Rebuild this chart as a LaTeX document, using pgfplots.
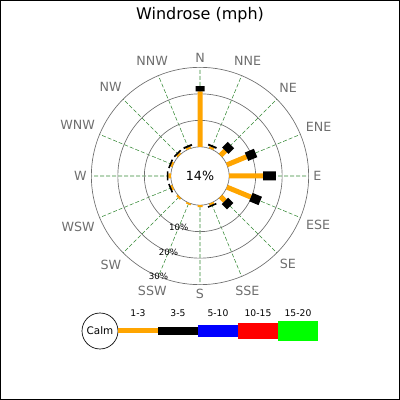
\documentclass[border=0pt]{standalone}
\usepackage{fontspec}
\setmainfont{DejaVu Sans}
\usepackage{pgfplots}
\pgfplotsset{compat=1.18}
\usepgfplotslibrary{polar}

\definecolor{speedA}{RGB}{255,165,0}
\definecolor{labelgray}{RGB}{110,110,110}
\definecolor{ringgray}{RGB}{110,110,110}
\definecolor{spokegreen}{RGB}{50,135,50}

\begin{document}
\begin{tikzpicture}
\useasboundingbox (0,0) rectangle (300pt,300pt);
\draw[line width=0.75pt] (0.375pt,0.375pt) rectangle (299.625pt,299.625pt);
\node[font=\fontsize{12}{14}\selectfont] at (150pt,288.75pt) {Windrose (mph)};

\begin{polaraxis}[
    at={(150pt,168pt)}, anchor=center,
    scale only axis, width=163pt, height=163pt,
    xmin=0, xmax=360, ymin=0, ymax=41,
    xtick={0,22.5,...,337.5},
    xticklabels={E,ENE,NE,NNE,N,NNW,NW,WNW,W,WSW,SW,SSW,S,SSE,SE,ESE},
    xticklabel style={font=\fontsize{9.5}{11}\selectfont, text=labelgray},
    ytick={21,31}, yticklabels={},
    xmajorgrids, ymajorgrids,
    major x grid style={spokegreen, dash pattern=on 3pt off 1.5pt, line width=0.4pt},
    major y grid style={ringgray, line width=0.5pt},
    separate axis lines,
    x axis line style={ringgray, line width=0.5pt},
    y axis line style={draw=none},
    major tick length=0pt,
    tick style={draw=none},
    clip=false,
    y filter/.expression={y+11},
    unbounded coords=jump,
]
% calm circle (0 %)
\filldraw[fill=white, draw=ringgray, line width=0.5pt] (axis cs:0,0) circle[radius=21.87pt];
\node[font=\fontsize{9.5}{11}\selectfont] at (axis cs:0,0) {14\%};

% 1-3 mph, cumulative percent
\addplot[no markers, speedA, line width=3.75pt] coordinates {
    (90,0) (90,20.9) (90,nan)
    (67.5,0) (67.5,0.8) (67.5,nan)
    (45,0) (45,2.5) (45,nan)
    (22.5,0) (22.5,8.0) (22.5,nan)
    (0,0) (0,12.8) (0,nan)
    (337.5,0) (337.5,9.8) (337.5,nan)
    (315,0) (315,2.3) (315,nan)
    (292.5,0) (292.5,0.7) (292.5,nan)
    (270,0) (270,0.7) (270,nan)
    (247.5,0) (247.5,0.6) (247.5,nan)
    (225,0) (225,0.7) (225,nan)
    (202.5,0) (202.5,0.7) (202.5,nan)
    (180,0) (180,0.9) (180,nan)
    (157.5,0) (157.5,0.7) (157.5,nan)
    (135,0) (135,0.7) (135,nan)
    (112.5,0) (112.5,0.7)
};
% 3-5 mph, cumulative percent
\addplot[no markers, black, line width=6.75pt] coordinates {
    (90,20.9) (90,22.9) (90,nan)
    (67.5,0.8) (67.5,1.5) (67.5,nan)
    (45,2.5) (45,5.5) (45,nan)
    (22.5,8.0) (22.5,11.7) (22.5,nan)
    (0,12.8) (0,17.6) (0,nan)
    (337.5,9.8) (337.5,13.6) (337.5,nan)
    (315,2.3) (315,5.1) (315,nan)
    (292.5,0.7) (292.5,1.3) (292.5,nan)
    (202.5,0.7) (202.5,1.3) (202.5,nan)
    (180,0.9) (180,1.5) (180,nan)
    (157.5,0.7) (157.5,1.3) (157.5,nan)
    (135,0.7) (135,1.3) (135,nan)
    (112.5,0.7) (112.5,1.4)
};

\node[font=\fontsize{6.5}{7}\selectfont] at (axis cs:247.5,21) {10\%};
\node[font=\fontsize{6.5}{7}\selectfont] at (axis cs:247.5,31) {20\%};
\node[font=\fontsize{6.5}{7}\selectfont] at (axis cs:247.5,41) {30\%};
\end{polaraxis}

% legend
\draw[line width=0.5pt] (75pt,51.75pt) circle[radius=13.5pt];
\node[font=\fontsize{7.8}{9}\selectfont] at (75pt,51.75pt) {Calm};
\draw[speedA, line width=3.75pt] (88.5pt,51.75pt) -- (118.5pt,51.75pt);
\fill[black] (118.5pt,48.4pt) rectangle (148.5pt,55.1pt);
\fill[blue] (148.5pt,47.25pt) rectangle (178.5pt,56.25pt);
\fill[red] (178.5pt,45.4pt) rectangle (208.5pt,58.1pt);
\fill[green] (208.5pt,44.6pt) rectangle (238.5pt,59.6pt);
\foreach \lx/\lt in {103.5/1-3, 133.5/3-5, 163.5/5-10, 193.5/10-15, 223.5/15-20}
    \node[font=\fontsize{6.9}{8}\selectfont] at (\lx pt,65.25pt) {\lt};
\end{tikzpicture}
\end{document}
